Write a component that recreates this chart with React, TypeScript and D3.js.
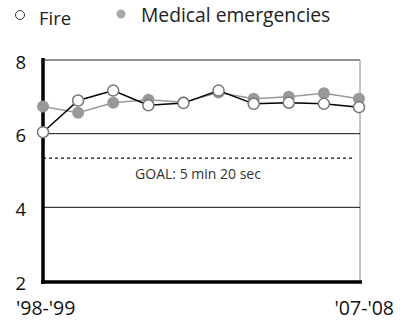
import React from "react";
import * as d3 from "d3";

const seasons = ["'98-'99", "'99-'00", "'00-'01", "'01-'02", "'02-'03", "'03-'04", "'04-'05", "'05-'06", "'06-'07", "'07-'08"];
const fireValues = [6.04, 6.9, 7.17, 6.77, 6.83, 7.17, 6.81, 6.84, 6.81, 6.72];
const medicalValues = [6.74, 6.57, 6.84, 6.92, 6.85, 7.12, 6.95, 7.0, 7.1, 6.95];
const yTicks = [2, 4, 6, 8];
const goalValue = 5 + 20 / 60;
const goalLabel = "GOAL: 5 min 20 sec";

const W = 407;
const H = 329;
const font = "'Open Sans', sans-serif";

export default function App() {
  const x = d3.scalePoint<string>().domain(seasons).range([43, 359]);
  const y = d3.scaleLinear().domain([2, 8]).range([281, 60]);
  const line = d3
    .line<number>()
    .x((_, i) => x(seasons[i]) as number)
    .y((d) => y(d));

  return (
    <svg width={W} height={H} style={{ position: "absolute", left: 0, top: 0 }}>
      <rect width={W} height={H} fill="#fff" />
      {/* legend */}
      <circle cx={20} cy={15} r={4.5} fill="#fff" stroke="#333" strokeWidth={1} />
      <text x={39} y={25} fontFamily={font} fontSize={18.5} fill="#222">Fire</text>
      <circle cx={121} cy={14} r={4.5} fill="#aaa" />
      <text x={141} y={22} fontFamily={font} fontSize={19.3} fill="#222">Medical emergencies</text>

      {/* frame & grid */}
      <line x1={43} x2={360} y1={y(8)} y2={y(8)} stroke="#222" strokeWidth={1} />
      <line x1={360} x2={360} y1={y(8)} y2={y(2)} stroke="#888" strokeWidth={1} />
      {[4, 6].map((t) => (
        <line key={t} x1={43} x2={360} y1={y(t)} y2={y(t)} stroke="#111" strokeWidth={1} />
      ))}
      <line x1={43} x2={355} y1={y(goalValue)} y2={y(goalValue)} stroke="#111" strokeWidth={1.3} strokeDasharray="3,3" />
      <text x={198} y={y(goalValue) + 20.5} textAnchor="middle" fontFamily={font} fontSize={14} fill="#333">{goalLabel}</text>
      <line x1={43} x2={43} y1={58} y2={284} stroke="#000" strokeWidth={3.5} />
      <line x1={41} x2={362} y1={y(2) + 1} y2={y(2) + 1} stroke="#000" strokeWidth={3.5} />

      {/* y ticks */}
      {yTicks.map((t) => (
        <text key={t} x={26} y={y(t) + 8.5} textAnchor="end" fontFamily={font} fontSize={18.5} fill="#111">{t}</text>
      ))}
      {/* x labels */}
      <text x={16} y={315} fontFamily={font} fontSize={19.5} fill="#111">{seasons[0]}</text>
      <text x={394} y={315} textAnchor="end" fontFamily={font} fontSize={19.5} fill="#111">{seasons[seasons.length - 1]}</text>

      {/* medical series */}
      <path d={line(medicalValues) || ""} fill="none" stroke="#999" strokeWidth={1.5} />
      {medicalValues.map((v, i) => (
        <circle key={"m" + i} cx={x(seasons[i])} cy={y(v)} r={6} fill="#999" />
      ))}
      {/* fire series */}
      <path d={line(fireValues) || ""} fill="none" stroke="#000" strokeWidth={1.5} />
      {fireValues.map((v, i) => (
        <circle key={"f" + i} cx={x(seasons[i])} cy={y(v)} r={5.5} fill="#fff" stroke="#777" strokeWidth={1.5} />
      ))}
    </svg>
  );
}
